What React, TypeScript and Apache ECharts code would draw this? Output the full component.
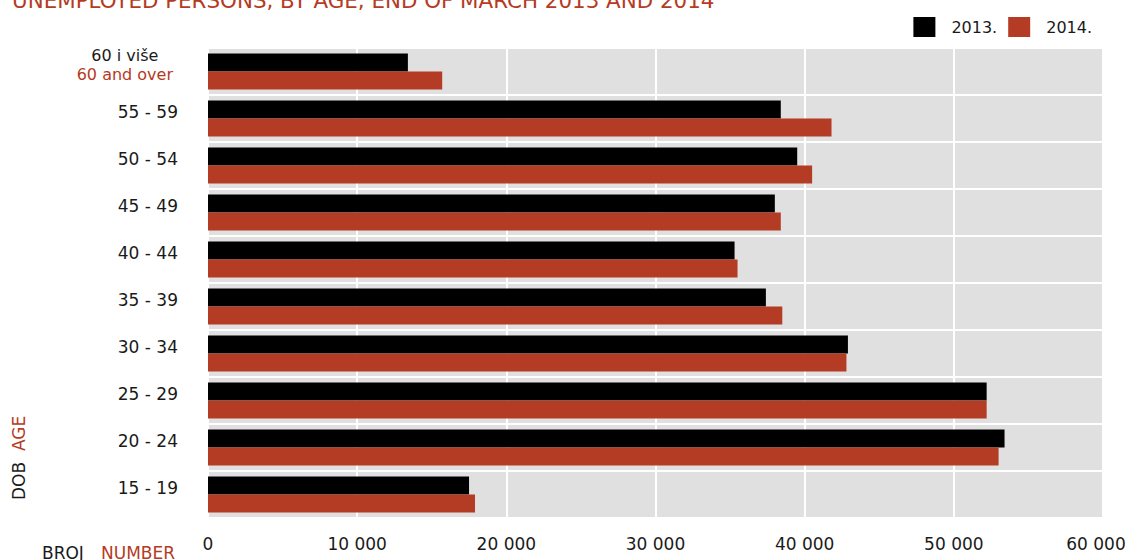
import React, { useEffect, useRef } from "react";
import * as echarts from "echarts";

const categories = ["15 - 19", "20 - 24", "25 - 29", "30 - 34", "35 - 39", "40 - 44", "45 - 49", "50 - 54", "55 - 59", "60 i više"];
const values2013 = [17500, 53400, 52200, 42900, 37400, 35300, 38000, 39500, 38400, 13400];
const values2014 = [17900, 53000, 52200, 42800, 38500, 35500, 38400, 40500, 41800, 15700];
const seriesNames = ["2013.", "2014."];
const xTicks = [0, 10000, 20000, 30000, 40000, 50000, 60000];

const FONT = "DejaVu Sans";
const RED = "#b43b24";
const BLACK = "#000000";
const TEXT = "#1a1a1a";

const fmt = (v: number) => (v === 0 ? "0" : String(v).replace(/(\d)(?=(\d{3})+$)/g, "$1 "));

export default function App() {
  const ref = useRef<HTMLDivElement>(null);
  useEffect(() => {
    if (!ref.current) return;
    const chart = echarts.init(ref.current, null, { renderer: "svg" });
    const xMax = xTicks[xTicks.length - 1];
    chart.setOption({
      animation: false,
      textStyle: { fontFamily: FONT },
      legend: {
        data: seriesNames,
        right: 30,
        top: 12,
        icon: "rect",
        itemWidth: 22,
        itemHeight: 20,
        itemGap: 11,
        textStyle: { fontFamily: FONT, fontSize: 16, color: TEXT, padding: [0, 0, 0, 11] },
      },
      grid: {
        left: 208,
        right: 24,
        top: 48,
        bottom: 42,
        show: true,
        backgroundColor: "#dfe0df",
        borderWidth: 0,
        containLabel: false,
        outerBoundsMode: "none",
      },
      xAxis: {
        type: "value",
        min: xTicks[0],
        max: xMax,
        interval: 10000,
        axisLine: { show: false },
        axisTick: { show: false },
        splitLine: { show: true, lineStyle: { color: "#ffffff", width: 2 } },
        axisLabel: {
          margin: 17,
          fontFamily: FONT,
          fontSize: 17,
          color: TEXT,
          formatter: (v: number) => (v === xMax ? "{m|" + fmt(v) + "}" : fmt(v)),
          rich: {
            m: { fontFamily: FONT, fontSize: 17, color: TEXT, padding: [0, 14, 0, 0] },
          },
        },
      },
      yAxis: {
        type: "category",
        data: categories,
        axisLine: { show: false },
        axisTick: { show: false },
        splitLine: { show: true, lineStyle: { color: "#ffffff", width: 2 } },
        axisLabel: {
          margin: 30,
          fontFamily: FONT,
          fontSize: 17,
          color: TEXT,
          padding: [0, 0, 14, 0],
          formatter: (v: string) => (v === "60 i više" ? "{a|60 i više}\n{b|60 and over}" : v),
          rich: {
            a: { fontFamily: FONT, fontSize: 16, color: TEXT, lineHeight: 19, align: "center", padding: [0, 5, 0, 0] },
            b: { fontFamily: FONT, fontSize: 16, color: RED, lineHeight: 19, align: "center", padding: [0, 5, 0, 0] },
          },
        },
      },
      series: [
        { name: seriesNames[0], type: "bar", data: values2013, barWidth: 18, barGap: "0%", itemStyle: { color: BLACK } },
        { name: seriesNames[1], type: "bar", data: values2014, barWidth: 18, barGap: "0%", itemStyle: { color: RED } },
      ],
      graphic: [
        {
          type: "text",
          left: 12,
          top: -10,
          style: { text: "UNEMPLOYED PERSONS, BY AGE, END OF MARCH 2013 AND 2014", fontFamily: FONT, fontSize: 21.4, fill: RED },
        },
        {
          type: "text",
          x: 10,
          y: 500,
          rotation: Math.PI / 2,
          style: { text: "DOB", fontFamily: FONT, fontSize: 17, fill: TEXT, textAlign: "left", textVerticalAlign: "top" },
        },
        {
          type: "text",
          x: 10,
          y: 451,
          rotation: Math.PI / 2,
          style: { text: "AGE", fontFamily: FONT, fontSize: 17, fill: RED, textAlign: "left", textVerticalAlign: "top" },
        },
        {
          type: "text",
          x: 42,
          y: 544,
          style: { text: "BROJ", fontFamily: FONT, fontSize: 17, fill: TEXT },
        },
        {
          type: "text",
          x: 101,
          y: 544,
          style: { text: "NUMBER", fontFamily: FONT, fontSize: 17, fill: RED },
        },
      ],
    });
    return () => chart.dispose();
  }, []);
  return <div ref={ref} style={{ position: "fixed", left: 0, top: 0, width: 1127, height: 560, background: "#fff" }} />;
}
